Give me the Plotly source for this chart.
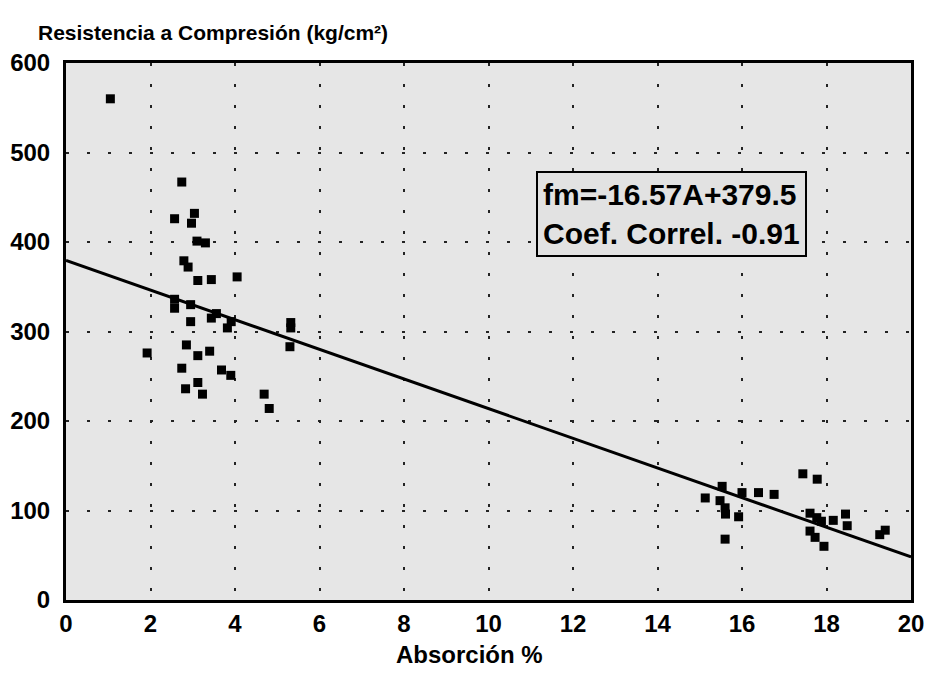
import numpy as np
import plotly.graph_objects as go

_FONT = "Arial, Liberation Sans, sans-serif"

# Left group (low absorption)
absorcion_a = [1.05, 2.74, 2.57, 3.04, 2.97, 3.10, 3.30, 2.79, 2.89, 3.12, 3.44, 4.05,
               2.57, 2.57, 2.95, 2.95, 3.44, 3.56, 3.91, 3.82, 5.32, 5.32, 5.30,
               1.92, 2.85, 3.12, 3.40, 2.74, 3.68, 3.90, 3.12, 2.83, 3.23, 4.69, 4.81]
resist_a = [560, 467, 426, 432, 421, 401, 399, 379, 372, 357, 358, 361,
            336, 326, 330, 311, 315, 320, 311, 304, 310, 304, 283,
            276, 285, 273, 278, 259, 257, 251, 243, 236, 230, 230, 214]

# Right group (high absorption)
absorcion_b = [17.44, 17.78, 15.53, 16.00, 16.39, 16.76, 15.13, 15.48, 15.60, 15.61, 15.92,
               15.60, 17.61, 17.77, 17.88, 18.16, 18.45, 18.49, 17.61, 17.73, 17.94,
               19.26, 19.39]
resist_b = [141, 135, 127, 120, 120, 118, 114, 111, 103, 96, 93,
            68, 97, 92, 88, 89, 96, 83, 77, 70, 60,
            73, 78]

# fitted line fm = slope*A + intercept
slope, intercept = -16.57, 379.5
line_x = np.array([0, 20])
line_y = slope * line_x + intercept

x_ticks = [0, 2, 4, 6, 8, 10, 12, 14, 16, 18, 20]
y_ticks = [0, 100, 200, 300, 400, 500, 600]

fig = go.Figure()
fig.add_trace(go.Scatter(x=line_x, y=line_y, mode="lines",
                         line=dict(color="black", width=3), hoverinfo="skip"))
fig.add_trace(go.Scatter(x=absorcion_a + absorcion_b, y=resist_a + resist_b, mode="markers",
                         marker=dict(symbol="square", size=9, color="black")))

fig.add_annotation(xref="paper", yref="paper", x=0.717, y=0.719,
                   xanchor="center", yanchor="middle",
                   text="<b>fm=-16.57A+379.5</b><br><b>Coef. Correl. -0.91</b>",
                   showarrow=False, align="left",
                   font=dict(family=_FONT, size=30, color="black"),
                   bgcolor="#e2e2e2", bordercolor="black", borderwidth=2, borderpad=5)

# x title placed a bit left of centre, as in the original
fig.add_annotation(xref="paper", yref="paper", x=0.478, y=-0.102,
                   xanchor="center", yanchor="middle", showarrow=False,
                   text="<b>Absorción %</b>", font=dict(family=_FONT, size=24, color="black"))

# page body has an 8px margin, so the figure is sized to fit the window
fig.update_layout(
    width=918, height=675,
    paper_bgcolor="white", plot_bgcolor="#e6e6e6",
    showlegend=False,
    margin=dict(l=58, r=15, t=55, b=83),
    font=dict(family=_FONT, color="black"),
    title=dict(text="<b>Resistencia a Compresión (kg/cm²)</b>",
               x=30/918, xanchor="left", xref="container",
               y=1-25/675, yanchor="middle", yref="container",
               font=dict(family=_FONT, size=21, color="black")),
)
fig.update_xaxes(range=[0, 20], tickvals=x_ticks, ticktext=[f"<b>{v}</b>" for v in x_ticks],
                 tickfont=dict(size=24, family=_FONT), ticks="", ticklen=0, automargin=False,
                 showgrid=True, gridcolor="#222", gridwidth=2, griddash="3px,18px",
                 showline=True, linecolor="black", linewidth=3, mirror=True, zeroline=False)
fig.update_yaxes(range=[0, 600], tickvals=y_ticks, ticktext=[f"<b>{v}</b>" for v in y_ticks],
                 tickfont=dict(size=24, family=_FONT), ticks="", ticklen=0, automargin=False,
                 ticklabelstandoff=8,
                 showgrid=True, gridcolor="#222", gridwidth=2, griddash="3px,18px",
                 showline=True, linecolor="black", linewidth=3, mirror=True, zeroline=False)

fig.write_html("out.html")
